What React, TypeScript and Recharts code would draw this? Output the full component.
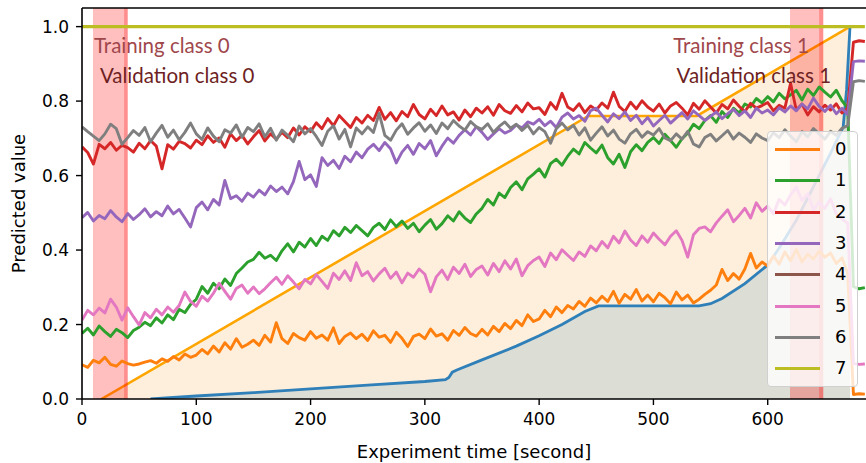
import React from "react";
import {
  Area,
  ComposedChart,
  Line,
  ReferenceArea,
  ReferenceDot,
  ReferenceLine,
  XAxis,
  YAxis,
} from "recharts";

// sample times of the per-class predictions [s]
const TIME = [
  0, 5, 10, 15, 20, 25, 30, 35, 40, 45,
  50, 55, 60, 65, 70, 75, 80, 85, 90, 95,
  100, 105, 110, 115, 120, 125, 130, 135, 140, 145,
  150, 155, 160, 165, 170, 175, 180, 185, 190, 195,
  200, 205, 210, 215, 220, 225, 230, 235, 240, 245,
  250, 255, 260, 265, 270, 275, 280, 285, 290, 295,
  300, 305, 310, 315, 320, 325, 330, 335, 340, 345,
  350, 355, 360, 365, 370, 375, 380, 385, 390, 395,
  400, 405, 410, 415, 420, 425, 430, 435, 440, 445,
  450, 455, 460, 465, 470, 475, 480, 485, 490, 495,
  500, 505, 510, 515, 520, 525, 530, 535, 540, 545,
  550, 555, 560, 565, 570, 575, 580, 585, 590, 595,
  600, 605, 610, 615, 620, 625, 630, 635, 640, 645,
  650, 655, 660, 665, 670, 675, 680, 685,
];

const CLASS_0 = [
  0.092, 0.085, 0.104, 0.097, 0.112, 0.093, 0.088, 0.102, 0.095, 0.091,
  0.094, 0.099, 0.103, 0.096, 0.108, 0.101, 0.114, 0.105, 0.121, 0.112,
  0.118, 0.133, 0.121, 0.142, 0.126, 0.151, 0.134, 0.162, 0.139, 0.147,
  0.158, 0.144, 0.171, 0.153, 0.205, 0.162, 0.149, 0.176, 0.165, 0.158,
  0.181, 0.163, 0.172, 0.158, 0.191, 0.149, 0.168, 0.177, 0.162, 0.174,
  0.157, 0.183, 0.166, 0.171, 0.152, 0.179, 0.163, 0.141, 0.168, 0.174,
  0.162, 0.188, 0.169, 0.175, 0.158, 0.184, 0.171, 0.192, 0.176, 0.169,
  0.187, 0.172, 0.195, 0.181, 0.203, 0.189, 0.211, 0.197, 0.226, 0.208,
  0.215, 0.238, 0.221, 0.247, 0.232, 0.251, 0.242, 0.262, 0.249, 0.271,
  0.258, 0.276, 0.262, 0.289, 0.257, 0.281, 0.268, 0.294, 0.263, 0.279,
  0.261, 0.284, 0.272, 0.256, 0.287, 0.266, 0.279, 0.258, 0.268, 0.281,
  0.292, 0.306, 0.348, 0.318, 0.337, 0.322, 0.349, 0.391, 0.352, 0.368,
  0.357, 0.384, 0.362, 0.395, 0.371, 0.402, 0.368, 0.389, 0.376, 0.397,
  0.381, 0.392, 0.364, 0.379, 0.338, 0.012, 0.014, 0.013,
];

const CLASS_1 = [
  0.176, 0.19, 0.172, 0.196, 0.181, 0.168, 0.187, 0.178, 0.165, 0.184,
  0.193, 0.206, 0.197, 0.218, 0.204, 0.226, 0.213, 0.241, 0.232, 0.254,
  0.268, 0.302, 0.284, 0.311, 0.296, 0.322, 0.305, 0.337, 0.352, 0.368,
  0.375, 0.394, 0.378, 0.386, 0.372, 0.398, 0.417, 0.395, 0.421, 0.408,
  0.431, 0.412, 0.437, 0.426, 0.452, 0.438, 0.461, 0.447, 0.466, 0.452,
  0.438, 0.461, 0.472, 0.455, 0.481, 0.463, 0.478, 0.458, 0.472, 0.449,
  0.467, 0.482, 0.456, 0.471, 0.492, 0.478, 0.503, 0.486, 0.474, 0.497,
  0.512, 0.536, 0.521, 0.553, 0.541, 0.568, 0.583, 0.562, 0.591, 0.604,
  0.618, 0.596, 0.632, 0.644, 0.628, 0.652, 0.671, 0.658, 0.689, 0.674,
  0.661, 0.682, 0.648, 0.631, 0.657, 0.622, 0.664, 0.683, 0.667, 0.689,
  0.702, 0.686, 0.711, 0.694, 0.676, 0.699, 0.714, 0.738, 0.726, 0.748,
  0.761, 0.743, 0.772, 0.756, 0.781, 0.768, 0.792, 0.784, 0.807, 0.795,
  0.812, 0.798, 0.821, 0.806, 0.817, 0.829, 0.803, 0.832, 0.815, 0.838,
  0.824, 0.811, 0.829, 0.801, 0.782, 0.302, 0.296, 0.299,
];

const CLASS_2 = [
  0.677, 0.662, 0.631, 0.684, 0.672, 0.689, 0.668, 0.681, 0.675, 0.663,
  0.687, 0.672, 0.694, 0.679, 0.618, 0.683, 0.671, 0.692, 0.686, 0.674,
  0.695, 0.683, 0.707, 0.689, 0.701, 0.676, 0.712, 0.694, 0.708, 0.685,
  0.704, 0.721, 0.693, 0.712, 0.698, 0.716, 0.702, 0.728, 0.709, 0.731,
  0.718, 0.742, 0.726, 0.753, 0.734, 0.761, 0.745, 0.729, 0.756, 0.741,
  0.762, 0.748, 0.783, 0.751, 0.769, 0.747, 0.772, 0.758, 0.791, 0.764,
  0.752, 0.778, 0.761, 0.787, 0.763, 0.771, 0.749, 0.776, 0.758, 0.781,
  0.768, 0.785, 0.762, 0.791, 0.774, 0.767, 0.788, 0.771, 0.795, 0.779,
  0.782, 0.764, 0.796, 0.778, 0.821, 0.784, 0.775, 0.793, 0.769, 0.787,
  0.776, 0.795, 0.781, 0.824, 0.786, 0.772, 0.797, 0.779, 0.801, 0.784,
  0.773, 0.792, 0.768, 0.787, 0.796, 0.781, 0.763, 0.794, 0.778, 0.801,
  0.784, 0.768, 0.791, 0.779, 0.803, 0.786, 0.772, 0.794, 0.781, 0.788,
  0.796, 0.774, 0.789, 0.781, 0.848, 0.776, 0.792, 0.763, 0.785, 0.771,
  0.789, 0.776, 0.793, 0.768, 0.781, 0.958, 0.962, 0.96,
];

const CLASS_3 = [
  0.487, 0.501, 0.478, 0.493, 0.484, 0.506, 0.489, 0.476, 0.498, 0.482,
  0.495, 0.511, 0.489, 0.503, 0.492, 0.518, 0.497, 0.509, 0.486, 0.462,
  0.514, 0.529, 0.508, 0.536, 0.521, 0.587, 0.538, 0.546, 0.531, 0.553,
  0.542, 0.561, 0.548, 0.572, 0.557, 0.569, 0.551, 0.584, 0.638, 0.589,
  0.602, 0.571, 0.648, 0.627, 0.641, 0.619, 0.652, 0.637, 0.663, 0.648,
  0.671, 0.684, 0.667, 0.689, 0.672, 0.634, 0.663, 0.681, 0.657, 0.686,
  0.672, 0.694, 0.653, 0.679, 0.701, 0.687, 0.708, 0.723, 0.709, 0.731,
  0.716, 0.697, 0.712, 0.726, 0.714, 0.721, 0.736, 0.728, 0.744, 0.738,
  0.751, 0.734, 0.746, 0.729, 0.757, 0.768, 0.752, 0.761, 0.746, 0.774,
  0.781, 0.762, 0.744, 0.766, 0.753, 0.771, 0.748, 0.762, 0.739, 0.756,
  0.733, 0.748, 0.762, 0.741, 0.755, 0.769, 0.752, 0.774, 0.761, 0.748,
  0.759, 0.771, 0.753, 0.766, 0.778, 0.761, 0.774, 0.756, 0.781, 0.768,
  0.776, 0.763, 0.782, 0.771, 0.787, 0.774, 0.792, 0.779, 0.808, 0.786,
  0.772, 0.789, 0.766, 0.781, 0.764, 0.906, 0.908, 0.907,
];

const CLASS_5 = [
  0.212, 0.238, 0.226, 0.244, 0.231, 0.268, 0.247, 0.212, 0.245, 0.221,
  0.199, 0.232, 0.218, 0.241, 0.226, 0.247, 0.233, 0.251, 0.287, 0.262,
  0.249, 0.276, 0.263, 0.284, 0.311, 0.289, 0.268, 0.297, 0.306, 0.284,
  0.301, 0.283, 0.296, 0.312, 0.327, 0.308, 0.331, 0.314, 0.296, 0.321,
  0.309, 0.334, 0.316, 0.297, 0.338, 0.321, 0.344, 0.318, 0.366, 0.331,
  0.342, 0.317, 0.336, 0.351, 0.324, 0.341, 0.312, 0.338, 0.327, 0.349,
  0.335, 0.288, 0.328, 0.346, 0.321, 0.354, 0.337, 0.362, 0.329, 0.348,
  0.357, 0.333, 0.364, 0.342, 0.371, 0.349, 0.376, 0.331, 0.358, 0.372,
  0.381, 0.356, 0.392, 0.374, 0.401, 0.386, 0.372, 0.395, 0.383, 0.411,
  0.398, 0.423, 0.406, 0.437, 0.419, 0.451, 0.427, 0.412, 0.438, 0.421,
  0.446, 0.429, 0.414, 0.437, 0.452, 0.426, 0.381, 0.441, 0.458, 0.462,
  0.449, 0.473, 0.491, 0.508, 0.476, 0.493, 0.512, 0.486, 0.527, 0.504,
  0.518, 0.497, 0.536, 0.521, 0.548, 0.569, 0.533, 0.551, 0.508, 0.529,
  0.512, 0.538, 0.497, 0.483, 0.472, 0.095, 0.093, 0.094,
];

const CLASS_6 = [
  0.731, 0.718, 0.706, 0.694, 0.712, 0.738, 0.726, 0.684, 0.702, 0.721,
  0.708, 0.729, 0.691, 0.714, 0.735, 0.703, 0.722, 0.696, 0.716, 0.741,
  0.712, 0.697, 0.728, 0.706, 0.691, 0.723, 0.714, 0.736, 0.703, 0.729,
  0.718, 0.739, 0.704, 0.727, 0.695, 0.722, 0.708, 0.691, 0.733, 0.712,
  0.726, 0.705, 0.681, 0.719, 0.734, 0.698, 0.724, 0.677, 0.728, 0.712,
  0.731, 0.716, 0.767, 0.708, 0.695, 0.722, 0.739, 0.711, 0.728, 0.742,
  0.719, 0.736, 0.713, 0.741, 0.726, 0.748, 0.733, 0.722, 0.745, 0.731,
  0.724, 0.739, 0.716, 0.732, 0.744, 0.727, 0.738, 0.721, 0.735, 0.712,
  0.729, 0.718, 0.687, 0.726, 0.741, 0.723, 0.735, 0.709, 0.728, 0.695,
  0.714, 0.731, 0.706, 0.722, 0.698, 0.687, 0.712, 0.724, 0.703, 0.718,
  0.709, 0.726, 0.701, 0.694, 0.712, 0.698, 0.719, 0.685, 0.677, 0.702,
  0.711, 0.693, 0.707, 0.721, 0.698, 0.714, 0.703, 0.689, 0.712, 0.701,
  0.694, 0.715, 0.702, 0.723, 0.706, 0.691, 0.718, 0.704, 0.726, 0.712,
  0.698, 0.719, 0.708, 0.727, 0.734, 0.852, 0.855, 0.853,
];

// class 7 stays at 1.0 for the whole run
const CLASS_7_T = [0, 685];
const CLASS_7_V = [1.0, 1.0];

// elapsed-time ramp (orange, filled) and cumulative score (blue, filled)
const RAMP_T = [17, 443, 538, 672];
const RAMP_V = [0, 0.76, 0.76, 1.0];

const CUMUL_T = [
  60, 100, 150, 200, 250, 300, 318, 321, 324, 328, 350, 380, 400, 420, 440,
  452, 540, 550, 560, 580, 600, 611, 625, 640, 655, 666, 669, 672,
];
const CUMUL_V = [
  0, 0.008, 0.017, 0.027, 0.037, 0.047, 0.052, 0.058, 0.072, 0.078, 0.105,
  0.142, 0.17, 0.2, 0.235, 0.25, 0.25, 0.256, 0.27, 0.31, 0.36, 0.41, 0.48,
  0.57, 0.66, 0.73, 0.83, 1.0,
];

// recording windows
const SPANS = [
  { x1: 9.6, x2: 40 },
  { x1: 36.8, x2: 40 },
  { x1: 619.5, x2: 648.6 },
  { x1: 645, x2: 648.6 },
];

const NOTES = [
  { x: 10.5, y: 0.929, text: "Training class 0", color: "#a0474c", anchor: "start" },
  { x: 15.7, y: 0.849, text: "Validation class 0", color: "#6e1f23", anchor: "start" },
  { x: 636, y: 0.929, text: "Training class 1", color: "#a0474c", anchor: "end" },
  { x: 655.4, y: 0.849, text: "Validation class 1", color: "#6e1f23", anchor: "end" },
];

const CLASS_NAMES = ["0", "1", "2", "3", "4", "5", "6", "7"];
const CLASS_COLORS = [
  "#ff7f0e", "#2ca02c", "#d62728", "#9467bd",
  "#8c564b", "#e377c2", "#7f7f7f", "#bcbd22",
];

const X_TICKS = [0, 100, 200, 300, 400, 500, 600];
const Y_TICKS = [0, 0.2, 0.4, 0.6, 0.8, 1.0];

const W = 866;
const H = 463;
const AXIS_FONT = "'DejaVu Sans', sans-serif";

const rows = TIME.map((t, i) => ({
  t,
  c0: CLASS_0[i],
  c1: CLASS_1[i],
  c2: CLASS_2[i],
  c3: CLASS_3[i],
  c5: CLASS_5[i],
  c6: CLASS_6[i],
}));
const class7 = CLASS_7_T.map((t, i) => ({ t, v: CLASS_7_V[i] }));
const ramp = RAMP_T.map((t, i) => ({ t, v: RAMP_V[i] }));
const cumul = CUMUL_T.map((t, i) => ({ t, v: CUMUL_V[i] }));

const noisy = [
  { key: "c0", color: CLASS_COLORS[0] },
  { key: "c1", color: CLASS_COLORS[1] },
  { key: "c2", color: CLASS_COLORS[2] },
  { key: "c3", color: CLASS_COLORS[3] },
  { key: "c5", color: CLASS_COLORS[5] },
  { key: "c6", color: CLASS_COLORS[6] },
];

function YTitle(props: any) {
  const { viewBox } = props;
  const cx = viewBox.x + 25;
  const cy = viewBox.y + viewBox.height / 2;
  return (
    <text
      x={cx}
      y={cy}
      transform={`rotate(-90, ${cx}, ${cy})`}
      textAnchor="middle"
      fontSize={18}
      fontFamily={AXIS_FONT}
      fill="#000"
    >
      Predicted value
    </text>
  );
}

function XTitle(props: any) {
  const { viewBox } = props;
  return (
    <text
      x={viewBox.x + viewBox.width / 2}
      y={viewBox.y + 59}
      textAnchor="middle"
      fontSize={18}
      fontFamily={AXIS_FONT}
      fill="#000"
    >
      Experiment time [second]
    </text>
  );
}

function ClassLegend() {
  return (
    <div
      style={{
        position: "absolute",
        left: 767,
        top: 131,
        width: 91,
        height: 256,
        boxSizing: "border-box",
        border: "1px solid #d0d0d0",
        borderRadius: 4,
        background: "rgba(255,255,255,0.8)",
        fontFamily: AXIS_FONT,
        fontSize: 18,
      }}
    >
      {CLASS_NAMES.map((name, i) => (
        <div key={name}>
          <div
            style={{
              position: "absolute",
              left: 7,
              top: 16 + Math.round(i * 31.35),
              width: 45,
              height: 3,
              background: CLASS_COLORS[i],
            }}
          />
          <div
            style={{
              position: "absolute",
              left: 67,
              top: 6 + Math.round(i * 31.35),
              lineHeight: "22px",
              color: "#000",
            }}
          >
            {name}
          </div>
        </div>
      ))}
    </div>
  );
}

export default function App() {
  return (
    <div style={{ position: "relative", width: W, height: H, background: "#fff" }}>
      <style>{"body{margin:0}"}</style>
      <ComposedChart
        width={W}
        height={H}
        data={rows}
        margin={{ top: 8, right: 0, bottom: 0, left: 0 }}
      >
        <XAxis
          dataKey="t"
          type="number"
          domain={[0, 686]}
          ticks={X_TICKS}
          allowDataOverflow
          height={64}
          tickSize={6}
          tickMargin={8}
          tick={{ fontSize: 17, fill: "#000", fontFamily: AXIS_FONT }}
          tickLine={{ stroke: "#000", strokeWidth: 1.4 }}
          axisLine={{ stroke: "#000", strokeWidth: 1.6 }}
          label={<XTitle />}
        />
        <YAxis
          type="number"
          domain={[0, 1.05]}
          ticks={Y_TICKS}
          allowDataOverflow
          width={82}
          tickSize={6}
          tickMargin={7}
          tickFormatter={(v: number) => v.toFixed(1)}
          tick={{ fontSize: 17, fill: "#000", fontFamily: AXIS_FONT }}
          tickLine={{ stroke: "#000", strokeWidth: 1.4 }}
          axisLine={{ stroke: "#000", strokeWidth: 1.6 }}
          label={<YTitle />}
        />

        <Area
          data={ramp}
          dataKey="v"
          type="linear"
          stroke="#ffa500"
          strokeWidth={2.6}
          fill="#fdefdb"
          fillOpacity={1}
          dot={false}
          activeDot={false}
          isAnimationActive={false}
        />
        <Area
          data={cumul}
          dataKey="v"
          type="linear"
          stroke="#2f7fb9"
          strokeWidth={2.8}
          fill="#dcddd5"
          fillOpacity={1}
          dot={false}
          activeDot={false}
          isAnimationActive={false}
        />

        {SPANS.map((s, i) => (
          <ReferenceArea
            key={i}
            x1={s.x1}
            x2={s.x2}
            fill="#ff0000"
            fillOpacity={0.25}
            stroke="none"
          />
        ))}

        {noisy.map((s) => (
          <Line
            key={s.key}
            dataKey={s.key}
            type="linear"
            stroke={s.color}
            strokeWidth={2.9}
            strokeLinejoin="round"
            dot={false}
            activeDot={false}
            isAnimationActive={false}
          />
        ))}
        <Line
          data={class7}
          dataKey="v"
          type="linear"
          stroke={CLASS_COLORS[7]}
          strokeWidth={3.2}
          dot={false}
          activeDot={false}
          isAnimationActive={false}
        />

        <ReferenceLine y={1.05} stroke="#000" strokeWidth={1.6} />

        {NOTES.map((n) => (
          <ReferenceDot
            key={n.text}
            x={n.x}
            y={n.y}
            r={0}
            shape={(p: any) => (
              <text
                x={p.cx}
                y={p.cy}
                textAnchor={n.anchor}
                fill={n.color}
                fontSize={20.5}
                fontFamily="Lato, sans-serif"
              >
                {n.text}
              </text>
            )}
          />
        ))}
      </ComposedChart>
      <ClassLegend />
    </div>
  );
}
